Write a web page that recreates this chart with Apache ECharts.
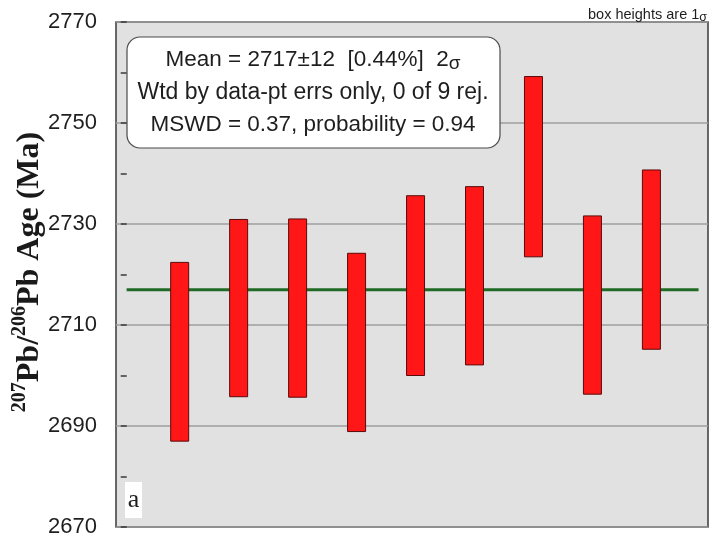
<!DOCTYPE html>
<html>
<head>
<meta charset="utf-8">
<script src="https://cdn.jsdelivr.net/npm/echarts@6/dist/echarts.min.js"></script>
<style>
html,body{margin:0;padding:0;background:#fff;}
#chart{width:710px;height:533px;}
</style>
</head>
<body>
<div id="chart"></div>
<script>
// Data
var analysisIndex = [1, 2, 3, 4, 5, 6, 7, 8, 9];
var boxLow  = [2687.0, 2695.8, 2695.7, 2688.9, 2700.0, 2702.1, 2723.5, 2696.3, 2705.2];
var boxHigh = [2722.4, 2730.9, 2731.0, 2724.2, 2735.6, 2737.4, 2759.2, 2731.6, 2740.7];
var meanAge = 2717;
var meanLineX = [0.1, 9.8];
var yTicks = {min: 2670, max: 2770, step: 20};
var statsLines = [
  'Mean = 2717\u00b112  [0.44%]  2{s|\u03c3}',
  'Wtd by data-pt errs only, 0 of 9 rej.',
  'MSWD = 0.37, probability = 0.94'
];

var boxData = analysisIndex.map(function (x, i) { return [x, boxLow[i], boxHigh[i]]; });

var chart = echarts.init(document.getElementById('chart'), null, {renderer: 'canvas'});
var option = {
  animation: false,
  grid: {
    left: 116, top: 22, right: 2, bottom: 6,
    outerBoundsMode: 'none', containLabel: false,
    show: true, backgroundColor: '#e1e1e1', borderColor: '#3a3a3a', borderWidth: 1.5
  },
  xAxis: {
    type: 'value', min: -0.08, max: 9.96, show: false
  },
  yAxis: {
    type: 'value', min: yTicks.min, max: yTicks.max, interval: yTicks.step,
    axisLine: {show: false},
    axisTick: {show: true, inside: true, length: 6, lineStyle: {color: '#3a3a3a', width: 1.5}},
    minorTick: {show: true, splitNumber: 2, length: 6, lineStyle: {color: '#3a3a3a', width: 1.5}},
    splitLine: {show: true, lineStyle: {color: '#9e9e9e', width: 1.5}},
    axisLabel: {
      color: '#1e1e1e', fontSize: 22, fontFamily: 'Liberation Sans, Arial, sans-serif', margin: 19,
      formatter: function (v) { return String(v); }
    }
  },
  series: [
    {
      type: 'line',
      data: [[meanLineX[0], meanAge], [meanLineX[1], meanAge]],
      symbol: 'none',
      lineStyle: {color: '#1f6a25', width: 3},
      z: 2, silent: true
    },
    {
      type: 'custom',
      data: boxData,
      z: 3,
      renderItem: function (params, api) {
        var x = api.value(0);
        var top = api.coord([x, api.value(2)]);
        var bot = api.coord([x, api.value(1)]);
        var w = 18;
        return {
          type: 'rect',
          shape: {x: top[0] - w / 2, y: top[1], width: w, height: bot[1] - top[1]},
          style: {fill: '#ff1616', stroke: '#5a0a0a', lineWidth: 1}
        };
      }
    }
  ],
  graphic: [
    {
      type: 'text',
      x: 28, y: 272,
      rotation: Math.PI / 2,
      style: {
        text: '{sup|207}{b|Pb/}{sup|206}{b|Pb Age (Ma)}',
        align: 'center', verticalAlign: 'middle',
        rich: {
          b: {fontFamily: 'Liberation Serif, Times New Roman, serif', fontWeight: 'bold', fontSize: 32, fill: '#1a1a1a', lineHeight: 36, verticalAlign: 'bottom'},
          sup: {fontFamily: 'Liberation Serif, Times New Roman, serif', fontWeight: 'bold', fontSize: 20, fill: '#1a1a1a', lineHeight: 36, verticalAlign: 'top'}
        }
      },
      z: 10
    },
    {
      type: 'rect',
      shape: {x: 127, y: 37, width: 373, height: 111, r: 13},
      style: {fill: '#ffffff', stroke: '#4a4a4a', lineWidth: 1.2},
      z: 10
    },
    {
      type: 'text', x: 313, y: 60,
      style: {text: statsLines[0], align: 'center', verticalAlign: 'middle', fontSize: 22.5,
        fontFamily: 'Liberation Sans, Arial, sans-serif', fill: '#1e1e1e',
        rich: {s: {fontSize: 19, fontFamily: 'Liberation Sans, Arial, sans-serif', fill: '#1e1e1e', padding: [7, 0, 0, 0]}}},
      z: 11
    },
    {
      type: 'text', x: 313, y: 93,
      style: {text: statsLines[1], align: 'center', verticalAlign: 'middle', fontSize: 23,
        fontFamily: 'Liberation Sans, Arial, sans-serif', fill: '#1e1e1e'},
      z: 11
    },
    {
      type: 'text', x: 313, y: 125,
      style: {text: statsLines[2], align: 'center', verticalAlign: 'middle', fontSize: 22.5,
        fontFamily: 'Liberation Sans, Arial, sans-serif', fill: '#1e1e1e'},
      z: 11
    },
    {
      type: 'rect',
      shape: {x: 125, y: 482, width: 17, height: 36},
      style: {fill: '#ffffff'},
      z: 10
    },
    {
      type: 'text', x: 133.5, y: 500,
      style: {text: 'a', align: 'center', verticalAlign: 'middle', fontSize: 26,
        fontFamily: 'Liberation Serif, Times New Roman, serif', fill: '#1e1e1e'},
      z: 11
    },
    {
      type: 'text', x: 707, y: 15,
      style: {text: 'box heights are 1{s|\u03c3}', align: 'right', verticalAlign: 'middle', fontSize: 14.5,
        fontFamily: 'Liberation Sans, Arial, sans-serif', fill: '#1e1e1e',
        rich: {s: {fontSize: 12.5, fontFamily: 'Liberation Sans, Arial, sans-serif', fill: '#1e1e1e', padding: [5, 0, 0, 0]}}},
      z: 11
    }
  ]
};
chart.setOption(option);
</script>
</body>
</html>
